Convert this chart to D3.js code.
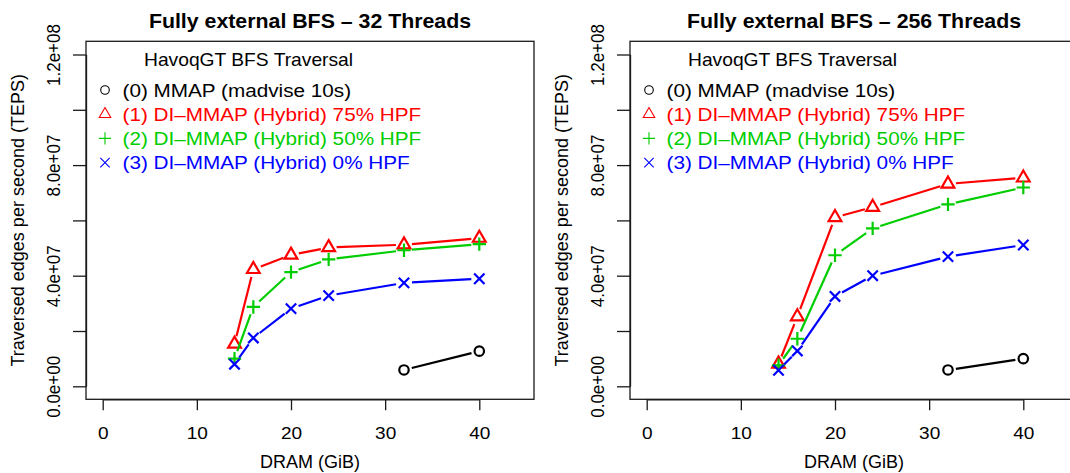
<!DOCTYPE html>
<html><head><meta charset="utf-8">
<script src="https://cdn.jsdelivr.net/npm/d3@7"></script>
<style>body{margin:0;background:#fff}svg{display:block}text{font-family:"Liberation Sans",Arial,Helvetica,sans-serif}</style>
</head><body>
<script>
// ---- data ----
const dram = [14, 16, 20, 24, 32, 40];
const mmapDram = [32, 40];
const panelTitles = ["Fully external BFS \u2013 32 Threads", "Fully external BFS \u2013 256 Threads"];
const t32_hpf75 = [1.53e7, 4.23e7, 4.75e7, 5.02e7, 5.12e7, 5.36e7];
const t32_hpf50 = [1.00e7, 2.87e7, 4.13e7, 4.59e7, 4.92e7, 5.14e7];
const t32_hpf0  = [0.80e7, 1.75e7, 2.81e7, 3.28e7, 3.74e7, 3.89e7];
const t32_mmap  = [0.59e7, 1.27e7];
const t256_hpf75 = [0.81e7, 2.52e7, 6.11e7, 6.48e7, 7.32e7, 7.54e7];
const t256_hpf50 = [0.76e7, 1.72e7, 4.74e7, 5.71e7, 6.58e7, 7.19e7];
const t256_hpf0  = [0.58e7, 1.28e7, 3.25e7, 4.00e7, 4.69e7, 5.11e7];
const t256_mmap  = [0.59e7, 1.00e7];
const xTicks = [0, 10, 20, 30, 40];
const yTicks = [0, 2e7, 4e7, 6e7, 8e7, 1e8, 1.2e8];
const yTickLabels = {0: "0.0e+00", 4e7: "4.0e+07", 8e7: "8.0e+07", 1.2e8: "1.2e+08"};
const legendTitle = "HavoqGT BFS Traversal";
const legendLabels = ["(0) MMAP (madvise 10s)", "(1) DI\u2013MMAP (Hybrid) 75% HPF", "(2) DI\u2013MMAP (Hybrid) 50% HPF", "(3) DI\u2013MMAP (Hybrid) 0% HPF"];
const seriesColors = ["#000000", "#FF0000", "#00CD00", "#0000FF"];
const seriesShapes = ["circle", "triangle", "plus", "cross"];
const xLabel = "DRAM (GiB)";
const yLabel = "Traversed edges per second (TEPS)";

const panels = [
  {title: panelTitles[0], series: [[mmapDram, t32_mmap], [dram, t32_hpf75], [dram, t32_hpf50], [dram, t32_hpf0]]},
  {title: panelTitles[1], series: [[mmapDram, t256_mmap], [dram, t256_hpf75], [dram, t256_hpf50], [dram, t256_hpf0]]}
];

const W = 1070, H = 473;
const svg = d3.select("body").append("svg").attr("width", W).attr("height", H);
svg.append("rect").attr("width", W).attr("height", H).attr("fill", "#fff");
const FONT = '"Liberation Sans",Arial,Helvetica,sans-serif';

function marker(g, shape, cx, cy, color, lw, s) {
  const R = 4.5 * s;
  if (shape === "circle") {
    g.append("circle").attr("cx", cx).attr("cy", cy).attr("r", R).attr("fill", "none").attr("stroke", color).attr("stroke-width", lw);
  } else if (shape === "triangle") {
    const r = 1.555 * R, xc = r * Math.sqrt(3) / 2, yc = r / 2;
    g.append("path").attr("d", `M${cx},${cy - r}L${cx + xc},${cy + yc}L${cx - xc},${cy + yc}Z`).attr("fill", "none").attr("stroke", color).attr("stroke-width", lw).attr("stroke-linejoin", "miter");
  } else if (shape === "plus") {
    const r = Math.SQRT2 * R;
    g.append("path").attr("d", `M${cx - r},${cy}H${cx + r}M${cx},${cy - r}V${cy + r}`).attr("stroke", color).attr("stroke-width", lw);
  } else {
    const r = R * 1.1;
    g.append("path").attr("d", `M${cx - r},${cy - r}L${cx + r},${cy + r}M${cx - r},${cy + r}L${cx + r},${cy - r}`).attr("stroke", color).attr("stroke-width", lw);
  }
}

panels.forEach((p, pi) => {
  const dx = pi * 544;
  const L = 86 + dx, T = 41.3, Rr = 534 + dx, B = 399.3;
  const g = svg.append("g");
  const x = d3.scaleLinear().domain([0, 40]).range([102.7 + dx, 479.3 + dx]);
  const y = d3.scaleLinear().domain([0, 1.2e8]).range([386.3, 54.5]);

  // series lines (type "b": gaps around points)
  const gap = 8;
  p.series.forEach((s, si) => {
    const [xs, ys] = s;
    const pts = xs.map((v, i) => [x(v), y(ys[i])]);
    for (let i = 0; i < pts.length - 1; i++) {
      const [x0, y0] = pts[i], [x1, y1] = pts[i + 1];
      const d = Math.hypot(x1 - x0, y1 - y0);
      if (d <= 2 * gap) continue;
      const ux = (x1 - x0) / d, uy = (y1 - y0) / d;
      g.append("line").attr("x1", x0 + ux * gap).attr("y1", y0 + uy * gap)
        .attr("x2", x1 - ux * gap).attr("y2", y1 - uy * gap)
        .attr("stroke", seriesColors[si]).attr("stroke-width", 2.2);
    }
    pts.forEach(pt => marker(g, seriesShapes[si], pt[0], pt[1], seriesColors[si], 2.2, 1.05));
  });

  // box
  g.append("rect").attr("x", L).attr("y", T).attr("width", Rr - L).attr("height", B - T)
    .attr("fill", "none").attr("stroke", "#1a1a1a").attr("stroke-width", 1.3);

  // x axis
  const xa = g.append("g").attr("transform", `translate(0,${B})`)
    .call(d3.axisBottom(x).tickValues(xTicks).tickSize(11).tickSizeOuter(0).tickFormat(d3.format("d")));
  xa.select(".domain").attr("stroke", "#1a1a1a").attr("stroke-width", 1.3);
  xa.selectAll(".tick line").attr("stroke", "#1a1a1a").attr("stroke-width", 1.3);
  xa.selectAll(".tick text").attr("y", 0).attr("dy", null).attr("transform", "translate(0,40) scale(1.12,1)")
    .attr("font-size", 17).attr("font-family", FONT).attr("fill", "#000");

  // y axis
  const ya = g.append("g").attr("transform", `translate(${L},0)`)
    .call(d3.axisLeft(y).tickValues(yTicks).tickSize(13).tickSizeOuter(0).tickFormat(v => yTickLabels[v] || ""));
  ya.select(".domain").attr("stroke", "#1a1a1a").attr("stroke-width", 1.3);
  ya.selectAll(".tick line").attr("stroke", "#1a1a1a").attr("stroke-width", 1.3);
  ya.selectAll(".tick text").attr("x", 0).attr("dy", null).attr("text-anchor", "middle")
    .attr("transform", "translate(-26,0) scale(1.12,1) rotate(-90)")
    .attr("font-size", 17).attr("font-family", FONT).attr("fill", "#000");

  // title
  g.append("text").attr("transform", `translate(${(L + Rr) / 2},28.3) scale(1.04,1)`).attr("text-anchor", "middle")
    .attr("font-size", 20.5).attr("font-weight", "bold").text(p.title);
  // axis titles
  g.append("text").attr("x", (L + Rr) / 2).attr("y", 468).attr("text-anchor", "middle")
    .attr("font-size", 18).text(xLabel);
  g.append("text").attr("transform", `translate(${24 + dx},${(T + B) / 2}) rotate(-90)`).attr("text-anchor", "middle")
    .attr("font-size", 18).text(yLabel);

  // legend
  g.append("text").attr("transform", `translate(${144 + dx},66) scale(1.04,1)`).attr("font-size", 18.5).text(legendTitle);
  legendLabels.forEach((lab, i) => {
    const by = 96.7 + i * 24.2;
    g.append("text").attr("transform", `translate(${122.5 + dx},${by}) scale(1.12,1)`).attr("font-size", 18.5)
      .attr("fill", seriesColors[i]).text(lab);
    marker(g, seriesShapes[i], 105 + dx, by - 6.7, seriesColors[i], 1.1, 0.95);
  });
});
</script>
</body></html>
